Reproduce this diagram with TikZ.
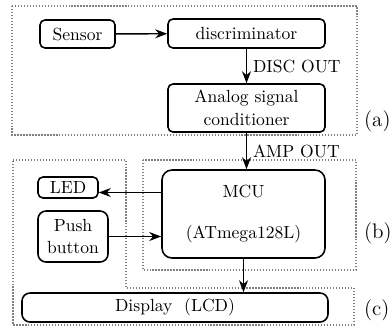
\documentclass[tikz,border=0pt]{standalone}
\usetikzlibrary{arrows.meta}
\begin{document}
\begin{tikzpicture}[x=0.2mm, y=-0.2mm,
	blk/.style={draw, line width=0.9pt, rounded corners=1mm, align=center, inner sep=0pt},
	grp/.style={gray, densely dotted, line width=0.7pt},
	conn/.style={-{Stealth[length=2.4mm, width=1.8mm]}, line width=0.8pt}]
	\useasboundingbox (0, 0) rectangle (390, 326);
	
	% dotted groups
	\draw[grp] (12, 6) rectangle (357, 135);
	\draw[grp] (143, 160) rectangle (356, 270);
	\draw[grp] (13, 160) -- (126, 160) -- (126, 288) -- (354, 288) -- (354, 325) -- (13, 325) -- cycle;
	\node[anchor=west, font=\large] (la) at (358, 121) {(a)};
	\node[anchor=west, font=\large] (lb) at (358, 233) {(b)};
	\node[anchor=west, font=\large] (lc) at (358, 310) {(c)};
	
	% blocks
	\node[blk, minimum width=15mm, minimum height=5.6mm] (sensor) at (77.5, 34) {Sensor};
	\node[blk, minimum width=31.4mm, minimum height=5.8mm] (disc) at (246.5, 33.5) {discriminator};
	\node[blk, minimum width=31.4mm, minimum height=9.6mm] (analog) at (246.5, 108) {Analog signal\\[1pt]conditioner};
	\node[blk, rounded corners=2mm, minimum width=32.6mm, minimum height=17.6mm] (mcu) at (243.5, 214) {MCU\\[4mm](ATmega128L)};
	\node[blk, minimum width=12mm, minimum height=4.2mm] (led) at (68, 187.5) {LED};
	\node[blk, rounded corners=1.6mm, minimum width=14mm, minimum height=10.2mm] (push) at (73, 236.5) {Push\\button};
	\node[blk, rounded corners=1.6mm, minimum width=61.2mm, minimum height=5.8mm] (display) at (175, 307.5) {Display~~(LCD)};
	
	% connections
	\draw[conn] (sensor) -- (disc);
	\draw[conn] (disc.south) -- node[right] {DISC OUT} (analog.north);
	\draw[conn] (analog.south) -- node[right] {AMP OUT} (analog.south |- mcu.north);
	\draw[conn] ([yshift=-1mm]led.east -| mcu.west) -- ([yshift=-1mm]led.east);
	\draw[conn] (push.east) -- (push.east -| mcu.west);
	\draw[conn] (mcu.south) -- (mcu.south |- display.north);
\end{tikzpicture}
\end{document}
